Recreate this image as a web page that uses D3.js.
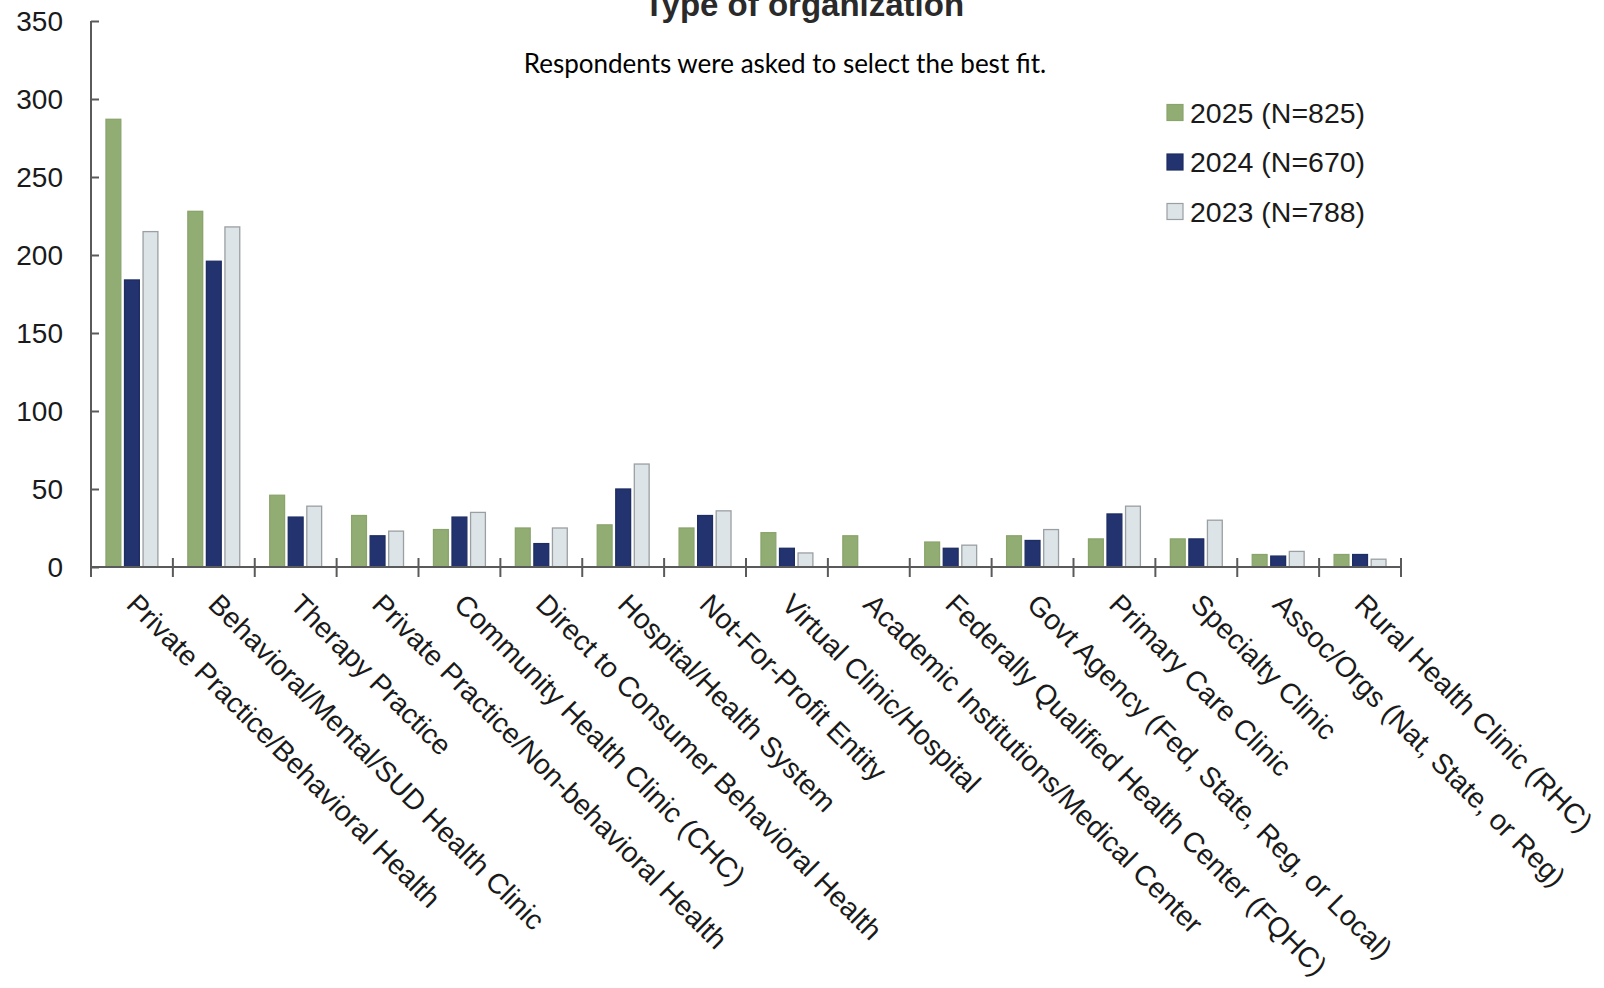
<!DOCTYPE html>
<html>
<head>
<meta charset="utf-8">
<script src="https://cdn.jsdelivr.net/npm/d3@7/dist/d3.min.js"></script>
<style>
  html, body { margin: 0; padding: 0; background: #fff; }
  svg { display: block; }
</style>
</head>
<body>
<svg id="chart" width="1604" height="988"></svg>
<script>
const categories = [
  "Private Practice/Behavioral Health",
  "Behavioral/Mental/SUD Health Clinic",
  "Therapy Practice",
  "Private Practice/Non-behavioral Health",
  "Community Health Clinic (CHC)",
  "Direct to Consumer Behavioral Health",
  "Hospital/Health System",
  "Not-For-Profit Entity",
  "Virtual Clinic/Hospital",
  "Academic Institutions/Medical Center",
  "Federally Qualified Health Center (FQHC)",
  "Govt Agency (Fed, State, Reg, or Local)",
  "Primary Care Clinic",
  "Specialty Clinic",
  "Assoc/Orgs (Nat, State, or Reg)",
  "Rural Health Clinic (RHC)"
];
const seriesNames = ["2025 (N=825)", "2024 (N=670)", "2023 (N=788)"];
const values2025 = [287, 228, 46, 33, 24, 25, 27, 25, 22, 20, 16, 20, 18, 18, 8, 8];
const values2024 = [184, 196, 32, 20, 32, 15, 50, 33, 12, 0, 12, 17, 34, 18, 7, 8];
const values2023 = [215, 218, 39, 23, 35, 25, 66, 36, 9, 0, 14, 24, 39, 30, 10, 5];
const yTicks = [0, 50, 100, 150, 200, 250, 300, 350];
const titleText = "Type of organization";
const subtitleText = "Respondents were asked to select the best fit.";

const seriesValues = [values2025, values2024, values2023];
const fills = ["#92ad73", "#22336f", "#dde4e7"];
const strokes = ["#8aa46c", "#1e2d62", "#9a9fa2"];

const svg = d3.select("#chart");
const axisColor = "#5a5a5a";

const x0 = d3.scaleBand().domain(categories).range([91, 1401]).padding(0);
const x1 = d3.scaleBand().domain(seriesNames)
  .range([x0.bandwidth() * 0.183, x0.bandwidth() * 0.817]).paddingInner(0.2);
const y = d3.scaleLinear().domain([0, 350]).range([567, 21]);

// Bars
const groups = svg.append("g").selectAll("g")
  .data(categories)
  .join("g")
  .attr("transform", d => `translate(${x0(d)},0)`);

groups.selectAll("rect")
  .data((d, i) => seriesNames.map((s, j) => ({ s, j, v: seriesValues[j][i] })).filter(o => o.v > 0))
  .join("rect")
  .attr("x", o => x1(o.s))
  .attr("y", o => y(o.v))
  .attr("width", x1.bandwidth())
  .attr("height", o => y(0) - y(o.v))
  .attr("fill", o => fills[o.j])
  .attr("stroke", o => strokes[o.j])
  .attr("stroke-width", 1.3);

// Y axis
const yAxis = d3.axisRight(y).tickValues(yTicks).tickSize(8).tickFormat("");
const gy = svg.append("g").attr("transform", "translate(91,0)").call(yAxis);
gy.select(".domain").remove();
gy.selectAll(".tick line").attr("stroke", axisColor).attr("stroke-width", 2);
svg.append("line").attr("x1", 91).attr("x2", 91).attr("y1", y(350)).attr("y2", 577)
  .attr("stroke", axisColor).attr("stroke-width", 2);

svg.append("g").selectAll("text")
  .data(yTicks)
  .join("text")
  .attr("x", 63)
  .attr("y", d => y(d))
  .attr("dy", "0.36em")
  .attr("text-anchor", "end")
  .attr("font-family", "'Liberation Sans', Arial, sans-serif")
  .attr("font-size", 28)
  .attr("fill", "#1a1a1a")
  .text(d => d);

// X axis
svg.append("line").attr("x1", 91).attr("x2", 1401).attr("y1", y(0)).attr("y2", y(0))
  .attr("stroke", axisColor).attr("stroke-width", 2);
const boundaries = categories.map(c => x0(c)).concat([x0.range()[1]]);
svg.append("g").selectAll("line")
  .data(boundaries.slice(1))
  .join("line")
  .attr("x1", d => d).attr("x2", d => d)
  .attr("y1", y(0) - 9).attr("y2", y(0) + 10)
  .attr("stroke", axisColor).attr("stroke-width", 2);

// Category labels
svg.append("g").selectAll("text")
  .data(categories)
  .join("text")
  .attr("transform", d => `translate(${x0(d) + x0.bandwidth() / 2 - 7},606) rotate(45)`)
  .attr("text-anchor", "start")
  .attr("font-family", "'Liberation Sans', Arial, sans-serif")
  .attr("font-size", 28.3)
  .attr("fill", "#1a1a1a")
  .text(d => d);

// Title & subtitle
svg.append("text")
  .attr("x", 804).attr("y", 16)
  .attr("text-anchor", "middle")
  .attr("font-family", "'Liberation Sans', Arial, sans-serif")
  .attr("font-weight", "bold")
  .attr("font-size", 33)
  .attr("fill", "#2a2a2a")
  .text(titleText);

svg.append("text")
  .attr("x", 785).attr("y", 73)
  .attr("text-anchor", "middle")
  .attr("font-family", "Lato, 'Open Sans', sans-serif")
  .attr("font-size", 26)
  .attr("fill", "#000")
  .text(subtitleText);

// Legend
const legend = svg.append("g").selectAll("g")
  .data(seriesNames)
  .join("g")
  .attr("transform", (d, i) => `translate(1167,${112.5 + i * 49.5})`);
legend.append("rect")
  .attr("x", 0).attr("y", -8).attr("width", 16).attr("height", 16)
  .attr("fill", (d, i) => fills[i])
  .attr("stroke", (d, i) => strokes[i])
  .attr("stroke-width", 1.2);
legend.append("text")
  .attr("x", 23).attr("y", 0).attr("dy", "0.36em")
  .attr("font-family", "'Liberation Sans', Arial, sans-serif")
  .attr("font-size", 28.5)
  .attr("fill", "#1a1a1a")
  .text(d => d);
</script>
</body>
</html>
